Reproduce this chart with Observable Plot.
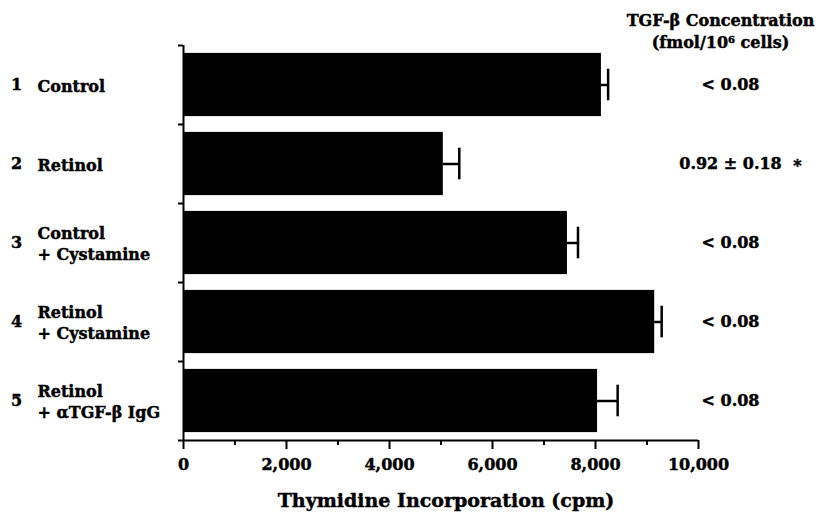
<!DOCTYPE html>
<html>
<head>
<meta charset="utf-8">
<script src="https://cdn.jsdelivr.net/npm/d3@7"></script>
<script src="https://cdn.jsdelivr.net/npm/@observablehq/plot@0.6"></script>
<style>
  html, body { margin: 0; padding: 0; background: white; }
  #chart svg text { stroke: black; stroke-width: 0.45px; }
</style>
</head>
<body>
<div id="chart"></div>
<script>
// ---- data ----
const numbers = ["1", "2", "3", "4", "5"];
const labels = ["Control", "Retinol", "Control\n+ Cystamine", "Retinol\n+ Cystamine", "Retinol\n+ αTGF-β IgG"];
const cpm = [8115, 5045, 7455, 9150, 8040];
const sem = [130, 310, 205, 135, 390];
const tgf = ["< 0.08", "0.92 ± 0.18", "< 0.08", "< 0.08", "< 0.08"];
const sig = ["", "*", "", "", ""];
const header = ["TGF-β Concentration", "(fmol/10⁶ cells)"];
const xMajorTicks = [0, 2000, 4000, 6000, 8000, 10000];
const xMinorTicks = [1000, 3000, 5000, 7000, 9000];
const xLabel = ["Thymidine Incorporation (cpm)"];

const rows = labels.map((label, i) => ({
  i, num: numbers[i], label, cpm: cpm[i], sem: sem[i], tgf: tgf[i], sig: sig[i]
}));
const mid = d => d.i + 0.5;
const font = "'DejaVu Serif', serif";

const chart = Plot.plot({
  width: 821,
  height: 512,
  marginLeft: 183,
  marginRight: 123,
  marginTop: 45,
  marginBottom: 72,
  x: {domain: [0, 10000]},
  y: {domain: [0, 5], reverse: true},
  style: {fontFamily: font, fontWeight: "bold", fontSize: "16px", background: "white", color: "black"},
  marks: [
    Plot.rect(rows, {x1: 0, x2: "cpm", y1: d => d.i + 0.1, y2: d => d.i + 0.9, fill: "black"}),
    Plot.ruleY(rows, {y: mid, x1: "cpm", x2: d => d.cpm + d.sem, stroke: "black", strokeWidth: 2.5}),
    Plot.ruleX(rows, {x: d => d.cpm + d.sem, y1: d => d.i + 0.3, y2: d => d.i + 0.7, stroke: "black", strokeWidth: 2.5}),
    Plot.ruleX([0], {y1: 0, y2: 5, stroke: "black", strokeWidth: 2}),
    Plot.ruleY([5], {x1: 0, x2: 10000, stroke: "black", strokeWidth: 2}),
    Plot.axisY({ticks: [0, 1, 2, 3, 4, 5], tickSize: 5, tickFormat: () => "", strokeWidth: 2, label: null}),
    Plot.axisX({ticks: xMinorTicks, tickSize: 5, tickFormat: () => "", strokeWidth: 2, label: null}),
    Plot.axisX({ticks: xMajorTicks, tickSize: 9, tickPadding: 9, tickFormat: d3.format(","),
      strokeWidth: 2, fontSize: 16, fontWeight: "bold", label: null}),
    Plot.text(rows, {y: mid, text: "num", frameAnchor: "left", dx: -167, textAnchor: "middle", fontSize: 16, fontWeight: "bold"}),
    Plot.text(rows, {y: mid, text: "label", frameAnchor: "left", dx: -146, textAnchor: "start", lineHeight: 1.3, fontSize: 16, fontWeight: "bold"}),
    Plot.text(rows, {y: mid, text: "tgf", frameAnchor: "right", dx: 32, textAnchor: "middle", fontSize: 16, fontWeight: "bold"}),
    Plot.text(rows, {y: mid, text: "sig", frameAnchor: "right", dx: 99, dy: 2, textAnchor: "middle", fontSize: 16, fontWeight: "bold"}),
    Plot.text([header[0]], {text: d => d, frameAnchor: "top-right", dx: 22, dy: -25, textAnchor: "middle", lineAnchor: "middle", fontSize: 16, fontWeight: "bold"}),
    Plot.text([header[1]], {text: d => d, frameAnchor: "top-right", dx: 22, dy: -3, textAnchor: "middle", lineAnchor: "middle", fontSize: 16, fontWeight: "bold"}),
    Plot.text(xLabel, {text: d => d, frameAnchor: "bottom", dx: 5, dy: 60, lineAnchor: "middle", fontSize: 19, fontWeight: "bold"})
  ]
});
document.getElementById("chart").appendChild(chart);
</script>
</body>
</html>
